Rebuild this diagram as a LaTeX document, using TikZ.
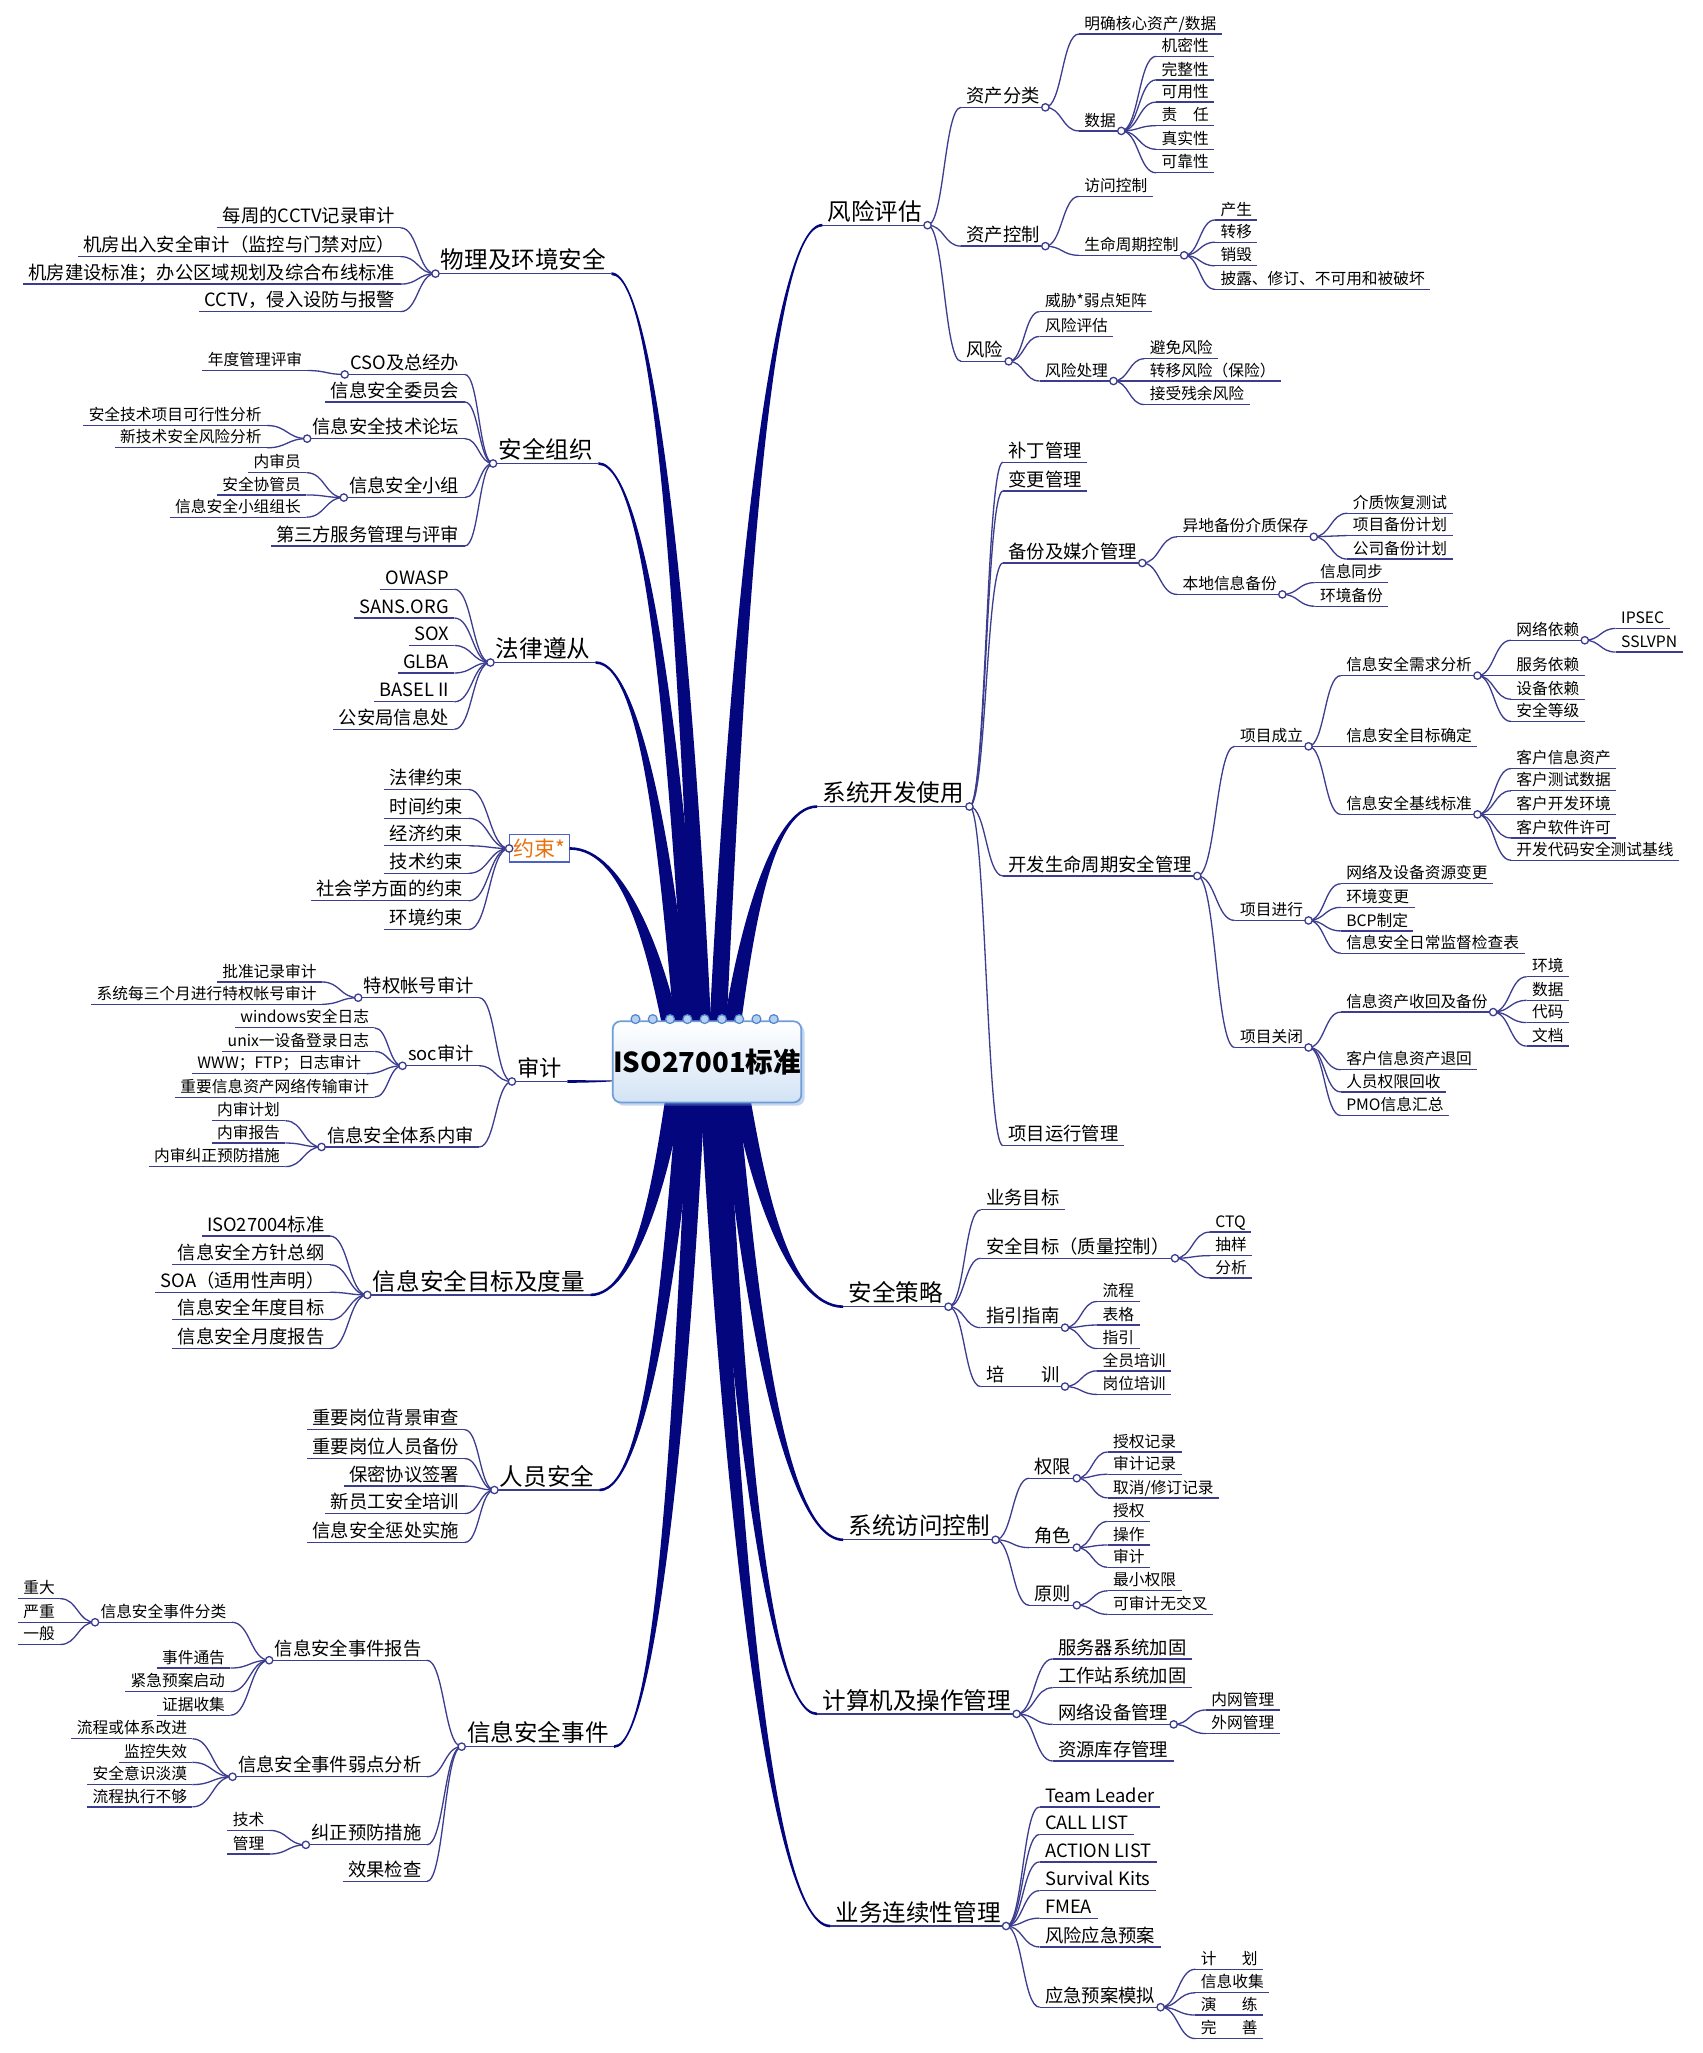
\documentclass[tikz,border=0pt]{standalone}
\usepackage{fontspec}
\setmainfont{Noto Sans CJK SC}
\usetikzlibrary{calc,shadows}
\definecolor{limbblue}{HTML}{04067E}
\definecolor{linkblue}{HTML}{3D3D8F}
\definecolor{isotop}{HTML}{FFFFFF}
\definecolor{isobot}{HTML}{D3E3F5}
\definecolor{isoedge}{HTML}{6E9DD8}
\definecolor{ringblue}{HTML}{4F84CF}
\definecolor{ringfill}{HTML}{B5D0F0}
\definecolor{conorange}{HTML}{E8700F}
\definecolor{conedge}{HTML}{4A62C8}
% thick tapered main branch: [half width]{start}{end}
\newcommand\limb[3][6.5pt]{%
  \fill[limbfill] let \p1=(#2),\p2=(#3),
    \n1={(2*((\x2-\x1)>0)-1)*(2*((\y2-\y1)>0)-1)} in
    ({\x1-#1},{\y1}) .. controls ({\x1+0.15*(\x2-\x1)-#1},{\y1+0.4*(\y2-\y1)}) and ({\x1+0.45*(\x2-\x1)},{\y2+(\n1)*1pt}) .. ({\x2},{\y2+(\n1)*1pt})
    -- ({\x2},{\y2-(\n1)*1pt}) .. controls ({\x1+0.45*(\x2-\x1)},{\y2-(\n1)*1pt}) and ({\x1+0.15*(\x2-\x1)+#1},{\y1+0.4*(\y2-\y1)}) .. ({\x1+#1},{\y1}) -- cycle;}

\begin{document}
\begin{tikzpicture}[x=1pt,y=-1pt,
    uline/.style={draw=linkblue,line width=1pt},
    ul/.style={append after command={(\tikzlastnode.south west) edge[uline] (\tikzlastnode.south east)}},
    txt/.style={inner xsep=4pt,inner ysep=2pt,text depth=0.15em,ul},
    topic/.style={txt,font=\fontsize{18}{20}\selectfont},
    sub/.style={txt,font=\fontsize{14}{16}\selectfont},
    leaf/.style={txt,font=\fontsize{12}{14}\selectfont},
    rs/.style={anchor=south west},
    ls/.style={anchor=south east},
    link/.style={draw=linkblue,line width=1pt,
                 to path={let \p1=(\tikztostart),\p2=(\tikztotarget) in
                   .. controls ({0.5*\x1+0.5*\x2},{\y1}) and ({0.5*\x1+0.5*\x2},{\y2}) .. (\tikztotarget)}},
    jdot/.style={draw=linkblue,fill=white,line width=1pt},
    limbfill/.style={fill=limbblue},
    isobox/.style={draw=isoedge,line width=1.3pt,rounded corners=6pt,top color=isotop,bottom color=isobot,
                   minimum width=144pt,minimum height=62pt,inner sep=0pt,
                   drop shadow={shadow xshift=2.5pt,shadow yshift=-2.5pt,opacity=0.4,fill=isoedge},
                   font=\fontsize{21}{24}\selectfont\bfseries},
    ring/.style={draw=ringblue,line width=0.9pt,fill=ringfill},
    conbox/.style={draw=conedge,line width=0.8pt,fill=white,text=conorange,inner xsep=3pt,inner ysep=3pt,
                   font=\fontsize{16}{18}\selectfont}]
  \fill[white] (0,0) rectangle (1300,1568);
  \useasboundingbox (0,0) rectangle (1300,1568);

  % ---------- right: 风险评估
  \node[topic,rs] (rk) at (628,172) {风险评估};
  \node[sub,rs] (rk1) at (734,82) {资产分类};
  \node[leaf,rs] (rk11) at (824,26) {明确核心资产/数据};
  \node[leaf,rs] (rk12) at (824,100) {数据};
  \node[leaf,rs] (rk12a) at (883,43) {机密性};
  \node[leaf,rs] (rk12b) at (883,61) {完整性};
  \node[leaf,rs] (rk12c) at (883,78) {可用性};
  \node[leaf,rs] (rk12d) at (883,96) {责\hspace{1em}任};
  \node[leaf,rs] (rk12e) at (883,114) {真实性};
  \node[leaf,rs] (rk12f) at (883,132) {可靠性};
  \node[sub,rs] (rk2) at (734,188) {资产控制};
  \node[leaf,rs] (rk21) at (824,150) {访问控制};
  \node[leaf,rs] (rk22) at (824,195) {生命周期控制};
  \node[leaf,rs] (rk22a) at (928,168) {产生};
  \node[leaf,rs] (rk22b) at (928,185) {转移};
  \node[leaf,rs] (rk22c) at (928,203) {销毁};
  \node[leaf,rs] (rk22d) at (928,221) {披露、修订、不可用和被破坏};
  \node[sub,rs] (rk3) at (734,276) {风险};
  \node[leaf,rs] (rk31) at (794,238) {威胁*弱点矩阵};
  \node[leaf,rs] (rk32) at (794,257) {风险评估};
  \node[leaf,rs] (rk33) at (794,291) {风险处理};
  \node[leaf,rs] (rk33a) at (874,274) {避免风险};
  \node[leaf,rs] (rk33b) at (874,291) {转移风险（保险）};
  \node[leaf,rs] (rk33c) at (874,309) {接受残余风险};

  % ---------- right: 系统开发使用
  \node[topic,rs] (dev) at (624,616) {系统开发使用};
  \node[sub,rs] (dev1) at (766,353) {补丁管理};
  \node[sub,rs] (dev2) at (766,375) {变更管理};
  \node[sub,rs] (dev3) at (766,430) {备份及媒介管理};
  \node[leaf,rs] (dev31) at (899,410) {异地备份介质保存};
  \node[leaf,rs] (dev31a) at (1029,392) {介质恢复测试};
  \node[leaf,rs] (dev31b) at (1029,409) {项目备份计划};
  \node[leaf,rs] (dev31c) at (1029,427) {公司备份计划};
  \node[leaf,rs] (dev32) at (899,454) {本地信息备份};
  \node[leaf,rs] (dev32a) at (1004,445) {信息同步};
  \node[leaf,rs] (dev32b) at (1004,463) {环境备份};
  \node[sub,rs] (dev4) at (766,669) {开发生命周期安全管理};
  \node[leaf,rs] (dev41) at (943,570) {项目成立};
  \node[leaf,rs] (dev41a) at (1024,516) {信息安全需求分析};
  \node[leaf,rs] (dev41a1) at (1154,489) {网络依赖};
  \node[leaf,rs] (ipsec) at (1234,480) {IPSEC};
  \node[leaf,rs] (sslvpn) at (1234,498) {SSLVPN};
  \node[leaf,rs] (dev41a2) at (1154,516) {服务依赖};
  \node[leaf,rs] (dev41a3) at (1154,534) {设备依赖};
  \node[leaf,rs] (dev41a4) at (1154,551) {安全等级};
  \node[leaf,rs] (dev41b) at (1024,570) {信息安全目标确定};
  \node[leaf,rs] (dev41c) at (1024,622) {信息安全基线标准};
  \node[leaf,rs] (dev41c1) at (1154,587) {客户信息资产};
  \node[leaf,rs] (dev41c2) at (1154,604) {客户测试数据};
  \node[leaf,rs] (dev41c3) at (1154,622) {客户开发环境};
  \node[leaf,rs] (dev41c4) at (1154,640) {客户软件许可};
  \node[leaf,rs] (dev41c5) at (1154,657) {开发代码安全测试基线};
  \node[leaf,rs] (dev42) at (943,703) {项目进行};
  \node[leaf,rs] (dev42a) at (1024,675) {网络及设备资源变更};
  \node[leaf,rs] (dev42b) at (1024,693) {环境变更};
  \node[leaf,rs] (dev42c) at (1024,711) {BCP制定};
  \node[leaf,rs] (dev42d) at (1024,728) {信息安全日常监督检查表};
  \node[leaf,rs] (dev43) at (943,800) {项目关闭};
  \node[leaf,rs] (dev43a) at (1024,773) {信息资产收回及备份};
  \node[leaf,rs] (dev43a1) at (1166,746) {环境};
  \node[leaf,rs] (dev43a2) at (1166,764) {数据};
  \node[leaf,rs] (dev43a3) at (1166,781) {代码};
  \node[leaf,rs] (dev43a4) at (1166,799) {文档};
  \node[leaf,rs] (dev43b) at (1024,817) {客户信息资产退回};
  \node[leaf,rs] (dev43c) at (1024,834) {人员权限回收};
  \node[leaf,rs] (dev43d) at (1024,852) {PMO信息汇总};
  \node[sub,rs] (dev5) at (766,875) {项目运行管理};

  % ---------- right: 安全策略
  \node[topic,rs] (pol) at (644,998) {安全策略};
  \node[sub,rs] (pol1) at (749,924) {业务目标};
  \node[sub,rs] (pol2) at (749,961) {安全目标（质量控制）};
  \node[leaf,rs] (pol2a) at (924,941) {CTQ};
  \node[leaf,rs] (pol2b) at (924,959) {抽样};
  \node[leaf,rs] (pol2c) at (924,976) {分析};
  \node[sub,rs] (pol3) at (749,1014) {指引指南};
  \node[leaf,rs] (pol3a) at (838,994) {流程};
  \node[leaf,rs] (pol3b) at (838,1012) {表格};
  \node[leaf,rs] (pol3c) at (838,1030) {指引};
  \node[sub,rs] (pol4) at (749,1059) {培\hspace{2em}训};
  \node[leaf,rs] (pol4a) at (838,1047) {全员培训};
  \node[leaf,rs] (pol4b) at (838,1065) {岗位培训};

  % ---------- right: 系统访问控制
  \node[topic,rs] (acc) at (644,1176) {系统访问控制};
  \node[sub,rs] (acc1) at (786,1129) {权限};
  \node[leaf,rs] (acc1a) at (846,1109) {授权记录};
  \node[leaf,rs] (acc1b) at (846,1126) {审计记录};
  \node[leaf,rs] (acc1c) at (846,1144) {取消/修订记录};
  \node[sub,rs] (acc2) at (786,1182) {角色};
  \node[leaf,rs] (acc2a) at (846,1162) {授权};
  \node[leaf,rs] (acc2b) at (846,1180) {操作};
  \node[leaf,rs] (acc2c) at (846,1197) {审计};
  \node[sub,rs] (acc3) at (786,1226) {原则};
  \node[leaf,rs] (acc3a) at (846,1215) {最小权限};
  \node[leaf,rs] (acc3b) at (846,1233) {可审计无交叉};

  % ---------- right: 计算机及操作管理
  \node[topic,rs] (ops) at (624,1309) {计算机及操作管理};
  \node[sub,rs] (ops1) at (804,1267) {服务器系统加固};
  \node[sub,rs] (ops2) at (804,1289) {工作站系统加固};
  \node[sub,rs] (ops3) at (804,1317) {网络设备管理};
  \node[leaf,rs] (ops3a) at (921,1306) {内网管理};
  \node[leaf,rs] (ops3b) at (921,1324) {外网管理};
  \node[sub,rs] (ops4) at (804,1345) {资源库存管理};

  % ---------- right: 业务连续性管理
  \node[topic,rs] (bcm) at (634,1471) {业务连续性管理};
  \node[sub,rs] (bcm1) at (794,1380) {Team Leader};
  \node[sub,rs] (bcm2) at (794,1401) {CALL LIST};
  \node[sub,rs] (bcm3) at (794,1422) {ACTION LIST};
  \node[sub,rs] (bcm4) at (794,1444) {Survival Kits};
  \node[sub,rs] (bcm5) at (794,1465) {FMEA};
  \node[sub,rs] (bcm6) at (794,1487) {风险应急预案};
  \node[sub,rs] (bcm7) at (794,1533) {应急预案模拟};
  \node[leaf,rs] (bcm7a) at (913,1504) {计\hspace{1.6em}划};
  \node[leaf,rs] (bcm7b) at (913,1522) {信息收集};
  \node[leaf,rs] (bcm7c) at (913,1539) {演\hspace{1.6em}练};
  \node[leaf,rs] (bcm7d) at (913,1557) {完\hspace{1.6em}善};

  % ---------- left: 物理及环境安全
  \node[topic,ls] (phy) at (467,209) {物理及环境安全};
  \node[sub,ls] (phy1) at (306,174) {每周的CCTV记录审计};
  \node[sub,ls] (phy2) at (306,196) {机房出入安全审计（监控与门禁对应）};
  \node[sub,ls] (phy3) at (306,217) {机房建设标准；办公区域规划及综合布线标准};
  \node[sub,ls] (phy4) at (306,238) {CCTV，侵入设防与报警};

  % ---------- left: 安全组织
  \node[topic,ls] (org) at (457,354) {安全组织};
  \node[sub,ls] (org1) at (355,286) {CSO及总经办};
  \node[leaf,ls] (org1a) at (235,283) {年度管理评审};
  \node[sub,ls] (org2) at (355,307) {信息安全委员会};
  \node[sub,ls] (org3) at (355,335) {信息安全技术论坛};
  \node[leaf,ls] (org3a) at (204,325) {安全技术项目可行性分析};
  \node[leaf,ls] (org3b) at (204,342) {新技术安全风险分析};
  \node[sub,ls] (org4) at (355,380) {信息安全小组};
  \node[leaf,ls] (org4a) at (234,361) {内审员};
  \node[leaf,ls] (org4b) at (234,378) {安全协管员};
  \node[leaf,ls] (org4c) at (234,395) {信息安全小组组长};
  \node[sub,ls] (org5) at (355,417) {第三方服务管理与评审};

  % ---------- left: 法律遵从
  \node[topic,ls] (law) at (455,506) {法律遵从};
  \node[sub,ls] (law1) at (347,450) {OWASP};
  \node[sub,ls] (law2) at (347,472) {SANS.ORG};
  \node[sub,ls] (law3) at (347,493) {SOX};
  \node[sub,ls] (law4) at (347,514) {GLBA};
  \node[sub,ls] (law5) at (347,536) {BASEL II};
  \node[sub,ls] (law6) at (347,557) {公安局信息处};

  % ---------- left: 约束*
  \node[conbox] (con) at (412,648) {约束*};
  \node[sub,ls] (con1) at (358,603) {法律约束};
  \node[sub,ls] (con2) at (358,625) {时间约束};
  \node[sub,ls] (con3) at (358,646) {经济约束};
  \node[sub,ls] (con4) at (358,667) {技术约束};
  \node[sub,ls] (con5) at (358,688) {社会学方面的约束};
  \node[sub,ls] (con6) at (358,710) {环境约束};

  % ---------- left: 审计
  \node[txt,rs,font=\fontsize{17}{19}\selectfont] (aud) at (391,826) {审计};
  \node[sub,ls] (aud1) at (366,762) {特权帐号审计};
  \node[leaf,ls] (aud1a) at (246,750) {批准记录审计};
  \node[leaf,ls] (aud1b) at (246,767) {系统每三个月进行特权帐号审计};
  \node[sub,ls] (aud2) at (366,814) {soc审计};
  \node[leaf,ls] (aud2a) at (286,785) {windows安全日志};
  \node[leaf,ls] (aud2b) at (286,803) {unix一设备登录日志};
  \node[leaf,ls] (aud2c) at (280,820) {WWW；FTP；日志审计};
  \node[leaf,ls] (aud2d) at (286,838) {重要信息资产网络传输审计};
  \node[sub,ls] (aud3) at (366,876) {信息安全体系内审};
  \node[leaf,ls] (aud3a) at (218,856) {内审计划};
  \node[leaf,ls] (aud3b) at (218,873) {内审报告};
  \node[leaf,ls] (aud3c) at (218,891) {内审纠正预防措施};

  % ---------- left: 信息安全目标及度量
  \node[topic,ls] (goal) at (451,989) {信息安全目标及度量};
  \node[sub,ls] (goal1) at (252,944) {ISO27004标准};
  \node[sub,ls] (goal2) at (252,966) {信息安全方针总纲};
  \node[sub,ls] (goal3) at (252,987) {SOA（适用性声明）};
  \node[sub,ls] (goal4) at (252,1008) {信息安全年度目标};
  \node[sub,ls] (goal5) at (252,1030) {信息安全月度报告};

  % ---------- left: 人员安全
  \node[topic,ls] (hr) at (458,1138) {人员安全};
  \node[sub,ls] (hr1) at (355,1092) {重要岗位背景审查};
  \node[sub,ls] (hr2) at (355,1114) {重要岗位人员备份};
  \node[sub,ls] (hr3) at (355,1135) {保密协议签署};
  \node[sub,ls] (hr4) at (355,1156) {新员工安全培训};
  \node[sub,ls] (hr5) at (355,1178) {信息安全惩处实施};

  % ---------- left: 信息安全事件
  \node[topic,ls] (inc) at (469,1334) {信息安全事件};
  \node[sub,ls] (inc1) at (326,1268) {信息安全事件报告};
  \node[leaf,ls] (inc1a) at (177,1239) {信息安全事件分类};
  \node[leaf,ls] (inc1a1) at (46,1221) {重大};
  \node[leaf,ls] (inc1a2) at (46,1239) {严重};
  \node[leaf,ls] (inc1a3) at (46,1256) {一般};
  \node[leaf,ls] (inc1b) at (176,1274) {事件通告};
  \node[leaf,ls] (inc1c) at (176,1292) {紧急预案启动};
  \node[leaf,ls] (inc1d) at (176,1310) {证据收集};
  \node[sub,ls] (inc2) at (326,1357) {信息安全事件弱点分析};
  \node[leaf,ls] (inc2a) at (147,1328) {流程或体系改进};
  \node[leaf,ls] (inc2b) at (147,1346) {监控失效};
  \node[leaf,ls] (inc2c) at (147,1363) {安全意识淡漠};
  \node[leaf,ls] (inc2d) at (147,1380) {流程执行不够};
  \node[sub,ls] (inc3) at (326,1409) {纠正预防措施};
  \node[leaf,ls] (inc3a) at (206,1398) {技术};
  \node[leaf,ls] (inc3b) at (206,1416) {管理};
  \node[sub,ls] (inc4) at (326,1437) {效果检查};

  % ---------- thick branches from the centre
  \coordinate (t1) at (514,792); \coordinate (t2) at (522,792); \coordinate (t3) at (530,792);
  \coordinate (t4) at (537,792); \coordinate (t5) at (548,792); \coordinate (t6) at (558,792);
  \coordinate (b1) at (516,830); \coordinate (b2) at (524,830); \coordinate (b3) at (532,830);
  \coordinate (b4) at (541,830); \coordinate (b5) at (549,830); \coordinate (b6) at (557,830);
  \coordinate (b7) at (565,830); \coordinate (w1) at (478,825);
  \limb{t1}{con.east} \limb{t2}{law.south east} \limb{t3}{org.south east} \limb{t4}{phy.south east}
  \limb{t5}{rk.south west} \limb{t6}{dev.south west}
  \limb{b1}{goal.south east} \limb{b2}{hr.south east} \limb{b3}{inc.south east}
  \limb{b4}{bcm.south west} \limb{b5}{ops.south west} \limb{b6}{acc.south west} \limb{b7}{pol.south west}
  \limb[2.2pt]{w1}{aud.south east}

  % ---------- right connectors
  \path (rk.south east) edge[link] (rk1.south west) edge[link] (rk2.south west) edge[link] (rk3.south west);
  \path (rk1.south east) edge[link] (rk11.south west) edge[link] (rk12.south west);
  \path (rk12.south east) edge[link] (rk12a.south west) edge[link] (rk12b.south west) edge[link] (rk12c.south west)
        edge[link] (rk12d.south west) edge[link] (rk12e.south west) edge[link] (rk12f.south west);
  \path (rk2.south east) edge[link] (rk21.south west) edge[link] (rk22.south west);
  \path (rk22.south east) edge[link] (rk22a.south west) edge[link] (rk22b.south west) edge[link] (rk22c.south west) edge[link] (rk22d.south west);
  \path (rk3.south east) edge[link] (rk31.south west) edge[link] (rk32.south west) edge[link] (rk33.south west);
  \path (rk33.south east) edge[link] (rk33a.south west) edge[link] (rk33b.south west) edge[link] (rk33c.south west);

  \path (dev.south east) edge[link] (dev1.south west) edge[link] (dev2.south west) edge[link] (dev3.south west)
        edge[link] (dev4.south west) edge[link] (dev5.south west);
  \path (dev3.south east) edge[link] (dev31.south west) edge[link] (dev32.south west);
  \path (dev31.south east) edge[link] (dev31a.south west) edge[link] (dev31b.south west) edge[link] (dev31c.south west);
  \path (dev32.south east) edge[link] (dev32a.south west) edge[link] (dev32b.south west);
  \path (dev4.south east) edge[link] (dev41.south west) edge[link] (dev42.south west) edge[link] (dev43.south west);
  \path (dev41.south east) edge[link] (dev41a.south west) edge[link] (dev41b.south west) edge[link] (dev41c.south west);
  \path (dev41a.south east) edge[link] (dev41a1.south west) edge[link] (dev41a2.south west) edge[link] (dev41a3.south west) edge[link] (dev41a4.south west);
  \path (dev41a1.south east) edge[link] (ipsec.south west) edge[link] (sslvpn.south west);
  \path (dev41c.south east) edge[link] (dev41c1.south west) edge[link] (dev41c2.south west) edge[link] (dev41c3.south west)
        edge[link] (dev41c4.south west) edge[link] (dev41c5.south west);
  \path (dev42.south east) edge[link] (dev42a.south west) edge[link] (dev42b.south west) edge[link] (dev42c.south west) edge[link] (dev42d.south west);
  \path (dev43.south east) edge[link] (dev43a.south west) edge[link] (dev43b.south west) edge[link] (dev43c.south west) edge[link] (dev43d.south west);
  \path (dev43a.south east) edge[link] (dev43a1.south west) edge[link] (dev43a2.south west) edge[link] (dev43a3.south west) edge[link] (dev43a4.south west);

  \path (pol.south east) edge[link] (pol1.south west) edge[link] (pol2.south west) edge[link] (pol3.south west) edge[link] (pol4.south west);
  \path (pol2.south east) edge[link] (pol2a.south west) edge[link] (pol2b.south west) edge[link] (pol2c.south west);
  \path (pol3.south east) edge[link] (pol3a.south west) edge[link] (pol3b.south west) edge[link] (pol3c.south west);
  \path (pol4.south east) edge[link] (pol4a.south west) edge[link] (pol4b.south west);

  \path (acc.south east) edge[link] (acc1.south west) edge[link] (acc2.south west) edge[link] (acc3.south west);
  \path (acc1.south east) edge[link] (acc1a.south west) edge[link] (acc1b.south west) edge[link] (acc1c.south west);
  \path (acc2.south east) edge[link] (acc2a.south west) edge[link] (acc2b.south west) edge[link] (acc2c.south west);
  \path (acc3.south east) edge[link] (acc3a.south west) edge[link] (acc3b.south west);

  \path (ops.south east) edge[link] (ops1.south west) edge[link] (ops2.south west) edge[link] (ops3.south west) edge[link] (ops4.south west);
  \path (ops3.south east) edge[link] (ops3a.south west) edge[link] (ops3b.south west);

  \path (bcm.south east) edge[link] (bcm1.south west) edge[link] (bcm2.south west) edge[link] (bcm3.south west) edge[link] (bcm4.south west)
        edge[link] (bcm5.south west) edge[link] (bcm6.south west) edge[link] (bcm7.south west);
  \path (bcm7.south east) edge[link] (bcm7a.south west) edge[link] (bcm7b.south west) edge[link] (bcm7c.south west) edge[link] (bcm7d.south west);

  % ---------- left connectors
  \path (phy.south west) edge[link] (phy1.south east) edge[link] (phy2.south east) edge[link] (phy3.south east) edge[link] (phy4.south east);
  \path (org.south west) edge[link] (org1.south east) edge[link] (org2.south east) edge[link] (org3.south east)
        edge[link] (org4.south east) edge[link] (org5.south east);
  \path (org1.south west) edge[link] (org1a.south east);
  \path (org3.south west) edge[link] (org3a.south east) edge[link] (org3b.south east);
  \path (org4.south west) edge[link] (org4a.south east) edge[link] (org4b.south east) edge[link] (org4c.south east);
  \path (law.south west) edge[link] (law1.south east) edge[link] (law2.south east) edge[link] (law3.south east)
        edge[link] (law4.south east) edge[link] (law5.south east) edge[link] (law6.south east);
  \path (con.west) edge[link] (con1.south east) edge[link] (con2.south east) edge[link] (con3.south east)
        edge[link] (con4.south east) edge[link] (con5.south east) edge[link] (con6.south east);
  \path (aud.south west) edge[link] (aud1.south east) edge[link] (aud2.south east) edge[link] (aud3.south east);
  \path (aud1.south west) edge[link] (aud1a.south east) edge[link] (aud1b.south east);
  \path (aud2.south west) edge[link] (aud2a.south east) edge[link] (aud2b.south east) edge[link] (aud2c.south east) edge[link] (aud2d.south east);
  \path (aud3.south west) edge[link] (aud3a.south east) edge[link] (aud3b.south east) edge[link] (aud3c.south east);
  \path (goal.south west) edge[link] (goal1.south east) edge[link] (goal2.south east) edge[link] (goal3.south east)
        edge[link] (goal4.south east) edge[link] (goal5.south east);
  \path (hr.south west) edge[link] (hr1.south east) edge[link] (hr2.south east) edge[link] (hr3.south east)
        edge[link] (hr4.south east) edge[link] (hr5.south east);
  \path (inc.south west) edge[link] (inc1.south east) edge[link] (inc2.south east) edge[link] (inc3.south east) edge[link] (inc4.south east);
  \path (inc1.south west) edge[link] (inc1a.south east) edge[link] (inc1b.south east) edge[link] (inc1c.south east) edge[link] (inc1d.south east);
  \path (inc1a.south west) edge[link] (inc1a1.south east) edge[link] (inc1a2.south east) edge[link] (inc1a3.south east);
  \path (inc2.south west) edge[link] (inc2a.south east) edge[link] (inc2b.south east) edge[link] (inc2c.south east) edge[link] (inc2d.south east);
  \path (inc3.south west) edge[link] (inc3a.south east) edge[link] (inc3b.south east);

  % ---------- centre
  \node[isobox] (iso) at (540,811) {ISO27001标准};
  \foreach \i in {0,...,8}
    \draw[ring] ($(iso.north west)+(18+\i*13.2,-1)$) circle (3.4pt);

  % ---------- junction dots
  \foreach \p in {rk,rk1,rk12,rk2,rk22,rk3,rk33,dev,dev3,dev31,dev32,dev4,dev41,dev41a,dev41a1,dev41c,dev42,dev43,dev43a,
                  pol,pol2,pol3,pol4,acc,acc1,acc2,acc3,ops,ops3,bcm,bcm7}
    \draw[jdot] (\p.south east) circle (2.8pt);
  \foreach \p in {phy,org,org1,org3,org4,law,aud,aud1,aud2,aud3,goal,hr,inc,inc1,inc1a,inc2,inc3}
    \draw[jdot] (\p.south west) circle (2.8pt);
  \draw[jdot] (con.west) circle (2.8pt);
\end{tikzpicture}
\end{document}
